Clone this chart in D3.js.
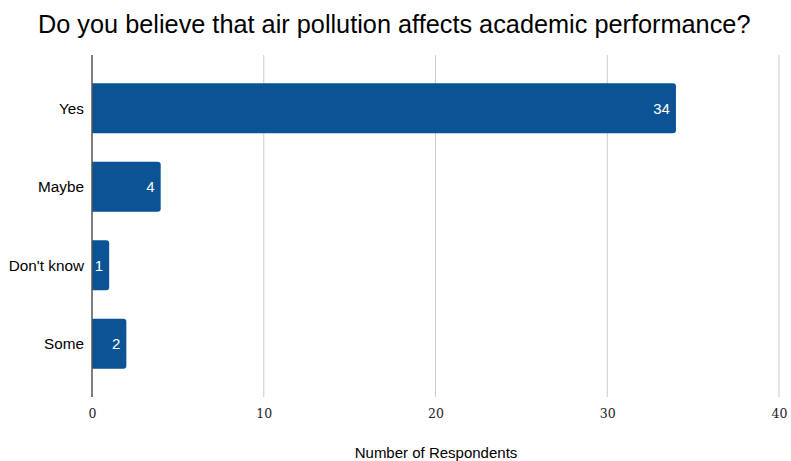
<!DOCTYPE html>
<html><head><meta charset="utf-8">
<script src="https://cdn.jsdelivr.net/npm/d3@7"></script>
<style>body{margin:0;background:#fff;} svg{display:block;}</style>
</head><body>
<svg id="c" width="791" height="461"></svg>
<script>
const categories = ["Yes", "Maybe", "Don't know", "Some"];
const values = [34, 4, 1, 2];
const xTicks = [0, 10, 20, 30, 40];
const title = "Do you believe that air pollution affects academic performance?";
const xTitle = "Number of Respondents";

const svg = d3.select("#c");
const sans = "'Liberation Sans', Arial, sans-serif";
const x = d3.scaleLinear().domain([0, 40]).range([92, 779]);
const y = d3.scaleBand().domain(categories).range([69, 383]).paddingInner(0.36).paddingOuter(0.18);

svg.append("text").attr("x", 38).attr("y", 33).attr("font-family", sans)
  .attr("font-size", 25.3).attr("fill", "#000").text(title);

// gridlines
svg.append("g").selectAll("line").data(xTicks.filter(d => d > 0)).join("line")
  .attr("x1", d => x(d)).attr("x2", d => x(d)).attr("y1", 55).attr("y2", 397)
  .attr("stroke", "#cccccc").attr("stroke-width", 1);

// bars with right rounded corners
const r = 3;
svg.append("g").selectAll("path").data(categories).join("path")
  .attr("fill", "#0b5394")
  .attr("d", (c, i) => {
    const x0 = x(0), x1 = x(values[i]), y0 = y(c), h = y.bandwidth();
    return `M${x0},${y0}H${x1 - r}Q${x1},${y0} ${x1},${y0 + r}V${y0 + h - r}Q${x1},${y0 + h} ${x1 - r},${y0 + h}H${x0}Z`;
  });

// value labels
svg.append("g").selectAll("text").data(categories).join("text")
  .attr("x", (c, i) => x(values[i]) - 6).attr("y", c => y(c) + y.bandwidth() / 2 + 5.5)
  .attr("text-anchor", "end").attr("font-family", sans).attr("font-size", 15)
  .attr("fill", "#fff").text((c, i) => values[i]);

// category labels
svg.append("g").selectAll("text").data(categories).join("text")
  .attr("x", 84).attr("y", c => y(c) + y.bandwidth() / 2 + 5.5)
  .attr("text-anchor", "end").attr("font-family", sans).attr("font-size", 15.3)
  .attr("fill", "#000").text(c => c);

// y axis line
svg.append("line").attr("x1", x(0)).attr("x2", x(0)).attr("y1", 55).attr("y2", 397)
  .attr("stroke", "#555").attr("stroke-width", 1.5);

// x axis tick labels
const xAxis = d3.axisBottom(x).tickValues(xTicks).tickSize(0).tickPadding(0);
const gx = svg.append("g").attr("transform", "translate(0,409)").call(xAxis);
gx.select(".domain").remove();
gx.selectAll("text").attr("font-family", "'DejaVu Serif', Georgia, serif")
  .attr("font-size", 12.5).attr("fill", "#222");

svg.append("text").attr("x", 436).attr("y", 458).attr("text-anchor", "middle")
  .attr("font-family", sans).attr("font-size", 15).attr("fill", "#000").text(xTitle);
</script>
</body></html>
